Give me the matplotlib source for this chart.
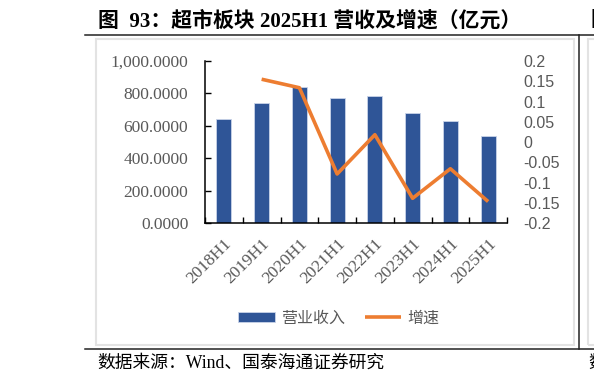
import numpy as np
import matplotlib
matplotlib.use("Agg")
import matplotlib.pyplot as plt
from matplotlib.lines import Line2D
from matplotlib.patches import Rectangle

categories = ["2018H1", "2019H1", "2020H1", "2021H1", "2022H1", "2023H1", "2024H1", "2025H1"]
revenue = [640, 739, 838, 772, 786, 677, 632, 539]
growth = [np.nan, 0.155, 0.134, -0.079, 0.018, -0.139, -0.066, -0.147]
left_ticks = [0, 200, 400, 600, 800, 1000]
right_ticks = [0.2, 0.15, 0.1, 0.05, 0, -0.05, -0.1, -0.15, -0.2]
right_labels = ["0.2", "0.15", "0.1", "0.05", "0", "-0.05", "-0.1", "-0.15", "-0.2"]

W, H = 594, 386
fig = plt.figure(figsize=(W / 100, H / 100), dpi=100)

def fx(x):
    return x / W

def fy(y):
    return 1 - y / H

CJK = ["Liberation Serif", "Noto Sans CJK SC"]
GRAY = "#595959"

# frame lines
fig.add_artist(Line2D([fx(85), fx(594)], [fy(34.5), fy(34.5)], color="#222222", lw=1.1))
fig.add_artist(Line2D([fx(85), fx(594)], [fy(349), fy(349)], color="#222222", lw=1.1))
fig.add_artist(Line2D([fx(579), fx(579)], [fy(34.5), fy(349)], color="#222222", lw=1.1))
fig.add_artist(Rectangle((fx(96), fy(345)), fx(574) - fx(96), fy(38.7) - fy(345),
                         fill=False, edgecolor="#e3e3e3", lw=1.5))
fig.add_artist(Rectangle((fx(588), fy(345)), fx(600) - fx(588), fy(38.7) - fy(345),
                         fill=False, edgecolor="#e3e3e3", lw=1.5))

fig.text(fx(98), fy(21), "图  93：超市板块 2025H1 营收及增速（亿元）", family=CJK,
         fontsize=15, fontweight="bold", color="black", va="center", ha="left")
fig.text(fx(590), fy(21), "图", family=CJK, fontsize=15, fontweight="bold", va="center", ha="left")
fig.text(fx(97), fy(363), "数据来源：Wind、国泰海通证券研究", family=CJK,
         fontsize=12.8, color="black", va="center", ha="left")
fig.text(fx(588), fy(363), "数", family=CJK, fontsize=12.8, va="center", ha="left")

ax = fig.add_axes([fx(205), fy(223), fx(507) - fx(205), fy(61) - fy(223)])
x = np.arange(len(categories))
bars = ax.bar(x, revenue, width=0.4, color="#2F5597", edgecolor="#c9d3e8", linewidth=0.6,
              label="营业收入", zorder=2)
ax.set_xlim(-0.5, len(categories) - 0.5)
ax.set_ylim(0, 1000)
ax.set_yticks(left_ticks)
ax.set_yticklabels([f"{v:,.4f}" for v in left_ticks], family="Liberation Serif",
                   fontsize=12.5, color=GRAY)
ax.set_xticks(x)
ax.set_xticklabels(categories, rotation=45, ha="right", rotation_mode="anchor",
                   family="Liberation Serif", fontsize=12.5, color=GRAY)
ax.set_xticks(np.arange(len(categories) + 1) - 0.5, minor=True)
ax.tick_params(axis="x", which="major", length=0, pad=9)
ax.tick_params(axis="x", which="minor", direction="in", length=4, width=1, color="black")
ax.tick_params(axis="y", direction="in", length=4, width=1, pad=12, color="black")
for s in ["top", "right"]:
    ax.spines[s].set_visible(False)
ax.spines["left"].set_linewidth(1.1)
ax.spines["bottom"].set_linewidth(1.1)
ax.patch.set_alpha(0)

ax2 = ax.twinx()
ax2.plot(x, growth, color="#ED7D31", lw=2.6, label="增速", zorder=3, solid_capstyle="butt")
ax2.set_ylim(-0.2, 0.2)
ax2.set_yticks(right_ticks)
ax2.set_yticklabels(right_labels, family="Liberation Sans", fontsize=11.5, color=GRAY)
ax2.tick_params(axis="y", length=0, pad=12)
for s in ["top", "right", "left", "bottom"]:
    ax2.spines[s].set_visible(False)

handles = [bars, ax2.get_lines()[0]]
leg = fig.legend(handles, ["营业收入", "增速"], loc="center", ncol=2,
                 bbox_to_anchor=(fx(339), fy(318)), frameon=False,
                 prop={"family": ["Noto Sans CJK SC"], "size": 11.5},
                 handlelength=2.3, handleheight=0.6, columnspacing=1.2, handletextpad=0.4)
for t in leg.get_texts():
    t.set_color(GRAY)

fig.savefig("out.png", dpi=100)
